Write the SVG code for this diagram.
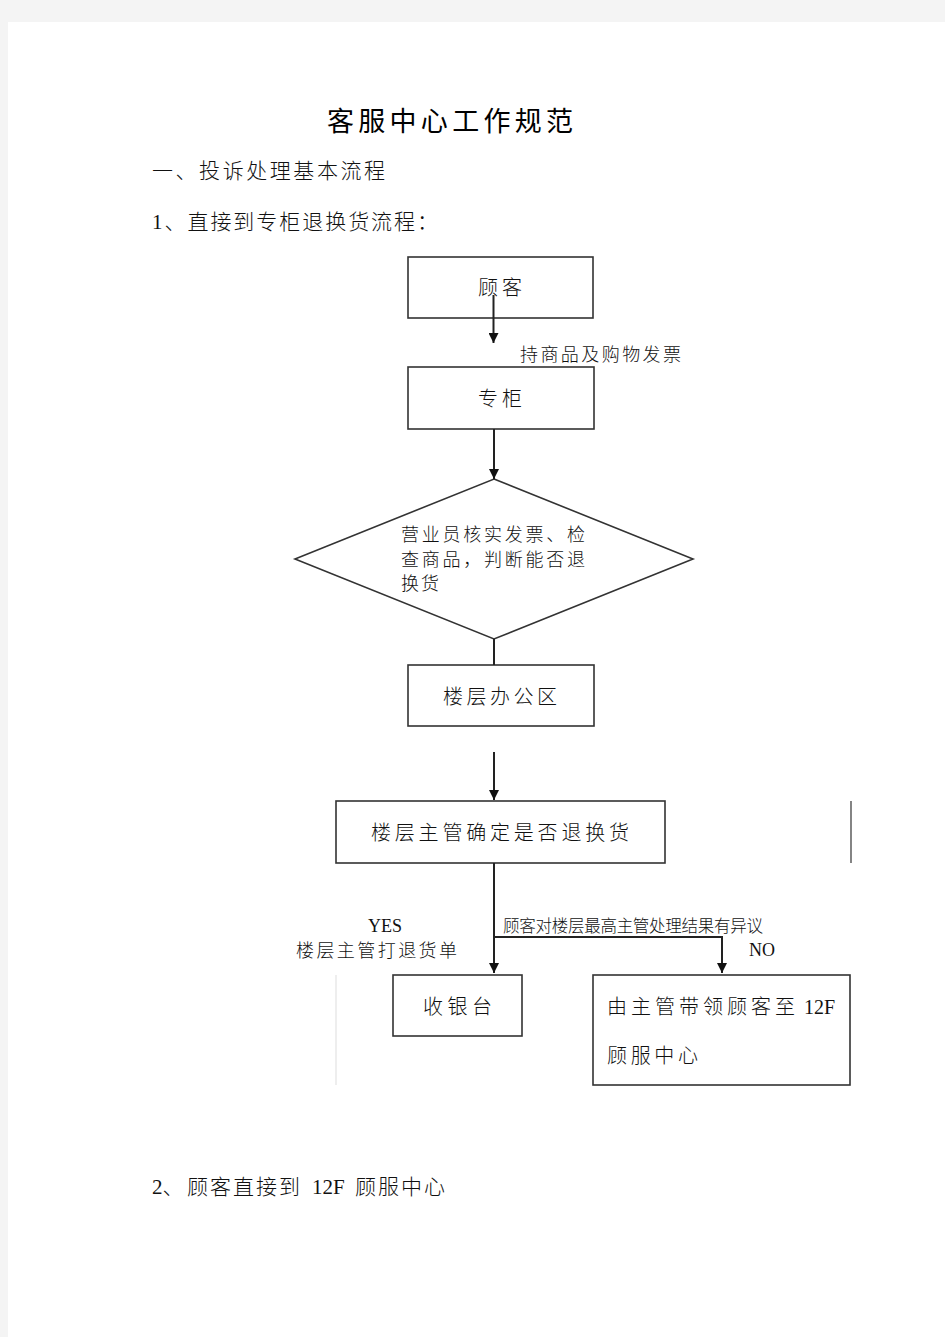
<svg xmlns="http://www.w3.org/2000/svg" width="945" height="1337" viewBox="0 0 945 1337">
<defs>
<marker id="arr" viewBox="0 0 10 10" refX="10" refY="5" markerWidth="10" markerHeight="10" markerUnits="userSpaceOnUse" orient="auto">
<path d="M0,0 L10,5 L0,10 z" fill="#111"/>
</marker>
<style>
.cn{font-family:"Liberation Serif","Noto Sans CJK SC",serif;fill:#111;font-weight:300}
.hd{font-family:"Noto Sans CJK SC",sans-serif;fill:#000}
.box{fill:#fff;stroke:#333;stroke-width:1.6}
.ln{fill:none;stroke:#222;stroke-width:2}
</style>
</defs>
<rect x="0" y="0" width="945" height="1337" fill="#f4f4f4"/>
<rect x="8" y="22" width="937" height="1315" fill="#fff"/>

<g id="headings">
<text class="hd" x="327" y="131" font-size="27" textLength="246" lengthAdjust="spacing">客服中心工作规范</text>
<text class="cn" x="152" y="178" font-size="21" textLength="233" lengthAdjust="spacing">一、投诉处理基本流程</text>
<text class="cn" x="152" y="229" font-size="21" textLength="286" lengthAdjust="spacing">1、直接到专柜退换货流程：</text>
<text class="cn" y="1194" font-size="21"><tspan x="152">2、</tspan><tspan x="187" letter-spacing="2">顾客直接到</tspan><tspan x="312">12F</tspan><tspan x="355" letter-spacing="2">顾服中心</tspan></text>
</g>

<g id="node-guke">
<rect class="box" x="408" y="257" width="185" height="61"/>
<text class="cn" x="478" y="295" font-size="20" textLength="44" lengthAdjust="spacing">顾客</text>
</g>

<g id="node-zhuangui">
<rect class="box" x="408" y="367" width="186" height="62"/>
<text class="cn" x="478" y="406" font-size="20" textLength="44" lengthAdjust="spacing">专柜</text>
</g>

<g id="node-check">
<polygon class="box" points="494,479 693,559 494,639 295,559"/>
<text class="cn" x="401" y="541" font-size="18" textLength="184" lengthAdjust="spacing">营业员核实发票、检</text>
<text class="cn" x="401" y="566" font-size="18" textLength="184" lengthAdjust="spacing">查商品，判断能否退</text>
<text class="cn" x="401" y="590" font-size="18" textLength="38" lengthAdjust="spacing">换货</text>
</g>

<g id="node-office">
<rect class="box" x="408" y="665" width="186" height="61"/>
<text class="cn" x="443" y="704" font-size="20" textLength="114" lengthAdjust="spacing">楼层办公区</text>
</g>

<g id="node-supervisor">
<rect class="box" x="336" y="801" width="329" height="62"/>
<text class="cn" x="371" y="840" font-size="20" textLength="258" lengthAdjust="spacing">楼层主管确定是否退换货</text>
</g>

<g id="node-cashier">
<rect class="box" x="393" y="975" width="129" height="61"/>
<text class="cn" x="423" y="1014" font-size="20" textLength="69" lengthAdjust="spacing">收银台</text>
</g>

<g id="node-center">
<rect class="box" x="593" y="975" width="257" height="110"/>
<text class="cn" y="1014" font-size="20"><tspan x="607" letter-spacing="4">由主管带领顾客至</tspan><tspan x="804">12F</tspan></text>
<text class="cn" x="607" y="1063" font-size="20" textLength="91" lengthAdjust="spacing">顾服中心</text>
</g>

<g id="stray-lines">
<line x1="851" y1="801" x2="851" y2="863" stroke="#333" stroke-width="1.2"/>
<line x1="336" y1="975" x2="336" y2="1085" stroke="#ddd" stroke-width="1"/>
</g>

<g id="connectors">
<line class="ln" x1="493.5" y1="295" x2="493.5" y2="343" marker-end="url(#arr)"/>
<line class="ln" x1="494" y1="429" x2="494" y2="479" marker-end="url(#arr)"/>
<line class="ln" x1="494" y1="639" x2="494" y2="665"/>
<line class="ln" x1="494" y1="752" x2="494" y2="800" marker-end="url(#arr)"/>
<line class="ln" x1="494" y1="863" x2="494" y2="973" marker-end="url(#arr)"/>
<polyline class="ln" points="494,937 722,937 722,973" marker-end="url(#arr)"/>
</g>

<g id="labels">
<text class="cn" x="520" y="361" font-size="18" textLength="161" lengthAdjust="spacing">持商品及购物发票</text>
<text class="cn" x="503" y="932" font-size="16.5" textLength="260" lengthAdjust="spacing">顾客对楼层最高主管处理结果有异议</text>
<text class="cn" x="368" y="932" font-size="18">YES</text>
<text class="cn" x="296" y="957" font-size="18" textLength="161" lengthAdjust="spacing">楼层主管打退货单</text>
<text class="cn" x="749" y="956" font-size="18">NO</text>
</g>
</svg>
